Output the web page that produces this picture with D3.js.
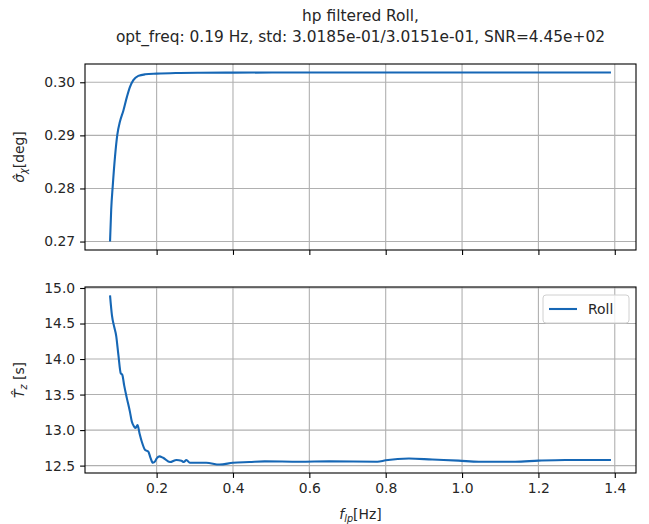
<!DOCTYPE html>
<html><head><meta charset="utf-8">
<script src="https://cdn.jsdelivr.net/npm/d3@7"></script>
<style>
body{margin:0;background:#fff;}
svg{display:block;font-family:"DejaVu Sans",sans-serif;}
</style></head>
<body><svg id="c" width="649" height="524"></svg>
<script>
const titleLines = ["hp filtered Roll,", "opt_freq: 0.19 Hz, std: 3.0185e-01/3.0151e-01, SNR=4.45e+02"];
const xTicks = [0.2, 0.4, 0.6, 0.8, 1.0, 1.2, 1.4];
const sigmaTicks = [0.27, 0.28, 0.29, 0.30];
const tzTicks = [12.5, 13.0, 13.5, 14.0, 14.5, 15.0];
const seriesName = "Roll";

const fSigma = [0.078,0.081,0.085,0.091,0.097,0.104,0.113,0.122,0.130,0.139,0.152,0.170,0.200,0.250,0.313,0.400,0.600,0.800,1.000,1.200,1.390];
const sigmaVals = [0.2700,0.2760,0.2804,0.2860,0.2901,0.2926,0.2947,0.2972,0.2991,0.3004,0.3012,0.3015,0.30163,0.30175,0.3018,0.30182,0.30184,0.30185,0.30185,0.30185,0.30185];

const fTz = [0.078,0.083,0.089,0.094,0.100,0.106,0.110,0.115,0.122,0.130,0.135,0.141,0.145,0.150,0.155,0.161,0.170,0.178,0.184,0.190,0.196,0.200,0.207,0.217,0.235,0.252,0.265,0.271,0.278,0.287,0.330,0.365,0.400,0.443,0.483,0.574,0.652,0.778,0.800,0.861,0.922,0.991,1.044,1.139,1.200,1.270,1.390];
const tzVals = [14.895,14.615,14.45,14.33,14.05,13.80,13.78,13.63,13.45,13.26,13.12,13.05,13.03,13.07,12.96,12.84,12.72,12.70,12.61,12.54,12.56,12.60,12.63,12.61,12.55,12.58,12.57,12.55,12.58,12.54,12.54,12.515,12.54,12.55,12.56,12.555,12.56,12.555,12.575,12.60,12.585,12.57,12.555,12.555,12.57,12.58,12.58];

const svg = d3.select("#c");
const L = 85, R = 636;
const panels = [
  {top:64, bottom:250, xs:fSigma, ys:sigmaVals, ticks:sigmaTicks, fmt:d3.format(".2f"), showX:false, key:"s"},
  {top:287, bottom:473, xs:fTz, ys:tzVals, ticks:tzTicks, fmt:d3.format(".1f"), showX:true, key:"t"}
];
const pad = (a,b)=>{const s=b-a;return [a-0.05*s,b+0.05*s];};
const allF = fSigma.concat(fTz);
const x = d3.scaleLinear().domain(pad(d3.min(allF), d3.max(allF))).range([L,R]);
const col = "#1667b5";
const fs = 13.9;

panels.forEach(p=>{
  const y = d3.scaleLinear().domain(pad(d3.min(p.ys), d3.max(p.ys))).range([p.bottom,p.top]);
  const g = svg.append("g");
  g.append("g").selectAll("line").data(xTicks).join("line")
    .attr("x1",d=>x(d)).attr("x2",d=>x(d)).attr("y1",p.top).attr("y2",p.bottom)
    .attr("stroke","#b0b0b0").attr("stroke-width",1.1);
  g.append("g").selectAll("line").data(p.ticks).join("line")
    .attr("x1",L).attr("x2",R).attr("y1",d=>y(d)).attr("y2",d=>y(d))
    .attr("stroke","#b0b0b0").attr("stroke-width",1.1);
  g.append("path").datum(p.xs.map((v,i)=>[v,p.ys[i]]))
    .attr("d",d3.line().x(d=>x(d[0])).y(d=>y(d[1])).curve(d3.curveMonotoneX))
    .attr("fill","none").attr("stroke",col).attr("stroke-width",2.1).attr("stroke-linejoin","round");
  const ya = d3.axisLeft(y).tickValues(p.ticks).tickFormat(p.fmt).tickSize(4.9).tickPadding(4.9);
  const ay = g.append("g").attr("transform",`translate(${L},0)`).call(ya);
  const xa = d3.axisBottom(x).tickValues(xTicks).tickFormat(p.showX?d3.format(".1f"):()=> "").tickSize(4.9).tickPadding(4.9);
  const ax = g.append("g").attr("transform",`translate(0,${p.bottom})`).call(xa);
  [ay,ax].forEach(a=>{
    a.select(".domain").remove();
    a.selectAll(".tick line").attr("stroke","#000").attr("stroke-width",1.1);
    a.selectAll(".tick text").attr("fill","#262626").style("font-size",fs+"px").style("font-family","DejaVu Sans");
  });
  g.append("rect").attr("x",L).attr("y",p.top).attr("width",R-L).attr("height",p.bottom-p.top)
    .attr("fill","none").attr("stroke","#000").attr("stroke-width",1.1);
});

const yl1 = svg.append("text").attr("transform",`translate(24,${(64+250)/2}) rotate(-90)`)
  .attr("text-anchor","middle").style("font-size",fs+"px").attr("fill","#262626");
yl1.append("tspan").style("font-style","italic").text("σ\u0302");
yl1.append("tspan").style("font-style","italic").style("font-size","9.7px").attr("dy",3).text("χ");
yl1.append("tspan").attr("dy",-3).text("[deg]");

const yl2 = svg.append("text").attr("transform",`translate(24,${(287+473)/2}) rotate(-90)`)
  .attr("text-anchor","middle").style("font-size",fs+"px").attr("fill","#262626");
yl2.append("tspan").style("font-style","italic").text("T\u0302");
yl2.append("tspan").style("font-style","italic").style("font-size","9.7px").attr("dy",3).text("z");
yl2.append("tspan").attr("dy",-3).text(" [s]");

const xl = svg.append("text").attr("x",(L+R)/2).attr("y",519).attr("text-anchor","middle")
  .style("font-size",fs+"px").attr("fill","#262626");
xl.append("tspan").style("font-style","italic").text("f");
xl.append("tspan").style("font-style","italic").style("font-size","9.7px").attr("dy",3).text("lp");
xl.append("tspan").attr("dy",-3).text("[Hz]");

svg.append("text").attr("x",(L+R)/2).attr("y",21).attr("text-anchor","middle").style("font-size","15.4px").attr("fill","#262626").text(titleLines[0]);
svg.append("text").attr("x",(L+R)/2).attr("y",42).attr("text-anchor","middle").style("font-size","15.4px").attr("fill","#262626").text(titleLines[1]);

const lg = svg.append("g");
lg.append("rect").attr("x",543).attr("y",295).attr("width",86).attr("height",28).attr("rx",3)
  .attr("fill","#fff").attr("fill-opacity",0.8).attr("stroke","#d0d0d0").attr("stroke-width",1);
lg.append("line").attr("x1",549).attr("x2",577).attr("y1",309).attr("y2",309).attr("stroke",col).attr("stroke-width",2.1);
lg.append("text").attr("x",588).attr("y",314).style("font-size",fs+"px").attr("fill","#262626").text(seriesName);
</script></body></html>
